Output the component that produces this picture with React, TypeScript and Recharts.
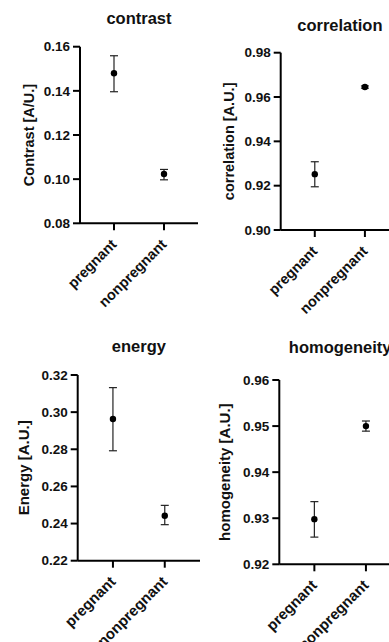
import React from 'react';
import { ScatterChart, Scatter, XAxis, YAxis, ErrorBar } from 'recharts';

const categories = ['pregnant', 'nonpregnant'];

const contrastMean = [0.148, 0.1023];
const contrastLow = [0.1396, 0.0997];
const contrastHigh = [0.1559, 0.1044];
const contrastTicks = [0.08, 0.1, 0.12, 0.14, 0.16];

const correlationMean = [0.9252, 0.9645];
const correlationLow = [0.9195, 0.964];
const correlationHigh = [0.9308, 0.965];
const correlationTicks = [0.9, 0.92, 0.94, 0.96, 0.98];

const energyMean = [0.2963, 0.2442];
const energyLow = [0.2792, 0.2394];
const energyHigh = [0.3132, 0.2498];
const energyTicks = [0.22, 0.24, 0.26, 0.28, 0.3, 0.32];

const homogeneityMean = [0.9298, 0.95];
const homogeneityLow = [0.9259, 0.9489];
const homogeneityHigh = [0.9336, 0.9511];
const homogeneityTicks = [0.92, 0.93, 0.94, 0.95, 0.96];

const FONT = 'Arial, "Liberation Sans", Helvetica, sans-serif';

function build(mean: number[], low: number[], high: number[]) {
  return categories.map((c, i) => ({
    x: i + 1,
    y: mean[i],
    err: [mean[i] - low[i], high[i] - mean[i]],
  }));
}

const XTick = (props: any) => {
  const { x, y, payload, fs } = props;
  return (
    <g transform={`translate(${x},${y})`}>
      <text
        x={0}
        y={0}
        transform="translate(3.5,13) rotate(-45)"
        textAnchor="end"
        fontFamily={FONT}
        fontWeight="bold"
        fontSize={fs}
        fill="#111"
      >
        {categories[payload.value - 1]}
      </text>
    </g>
  );
};

const YLabel = (props: any) => {
  const { viewBox, text, bx, fs } = props;
  const cy = viewBox.y + viewBox.height / 2;
  return (
    <text
      x={bx}
      y={cy}
      transform={`rotate(-90, ${bx}, ${cy})`}
      textAnchor="middle"
      fontFamily={FONT}
      fontWeight="bold"
      fontSize={fs}
      fill="#111"
    >
      {text}
    </text>
  );
};

const Dot = (props: any) => <circle cx={props.cx} cy={props.cy} r={3.2} fill="#000" />;

type PanelProps = {
  left: number;
  top: number;
  width: number;
  height: number;
  plotLeft: number;
  plotRight: number;
  plotTop: number;
  plotBottom: number;
  data: any[];
  ticks: number[];
  title: string;
  titleBaseline: number;
  yLabel: string;
  yLabelBaseline: number;
  labelFs: number;
};

function Panel(p: PanelProps) {
  const xAxisH = 90;
  const margin = {
    top: p.plotTop,
    left: 0,
    right: p.width - p.plotRight,
    bottom: p.height - p.plotBottom - xAxisH,
  };
  const center = (p.plotLeft + p.plotRight) / 2;
  return (
    <div style={{ position: 'absolute', left: p.left, top: p.top, width: p.width, height: p.height }}>
      <div
        style={{
          position: 'absolute',
          left: center - 100,
          width: 200,
          top: p.titleBaseline - 15.7,
          lineHeight: '20px',
          fontSize: 16.5,
          fontWeight: 'bold',
          fontFamily: FONT,
          textAlign: 'center',
          color: '#111',
        }}
      >
        {p.title}
      </div>
      <ScatterChart width={p.width} height={p.height} margin={margin}>
        <XAxis
          type="number"
          dataKey="x"
          domain={[0.32, 2.68]}
          ticks={[1, 2]}
          height={xAxisH}
          interval={0}
          tickSize={7}
          tickMargin={2}
          axisLine={{ stroke: '#000', strokeWidth: 2 }}
          tickLine={{ stroke: '#000', strokeWidth: 2 }}
          tick={<XTick fs={p.labelFs} />}
          allowDataOverflow
        />
        <YAxis
          type="number"
          dataKey="y"
          domain={[p.ticks[0], p.ticks[p.ticks.length - 1]]}
          ticks={p.ticks}
          interval={0}
          width={p.plotLeft}
          tickSize={7}
          tickMargin={3}
          axisLine={{ stroke: '#000', strokeWidth: 2 }}
          tickLine={{ stroke: '#000', strokeWidth: 2 }}
          tick={{ fontFamily: FONT, fontWeight: 'bold', fontSize: 13.5, fill: '#111' }}
          tickFormatter={(v: number) => v.toFixed(2)}
          allowDataOverflow
          label={<YLabel text={p.yLabel} bx={p.yLabelBaseline} fs={p.labelFs} />}
        />
        <Scatter data={p.data} isAnimationActive={false} shape={<Dot />}>
          <ErrorBar dataKey="err" direction="y" width={4} stroke="#222" strokeWidth={1.2} isAnimationActive={false} />
        </Scatter>
      </ScatterChart>
    </div>
  );
}

export default function App() {
  return (
    <div style={{ position: 'absolute', left: 0, top: 0, width: 389, height: 642, overflow: 'hidden', background: '#fff' }}>
      <Panel
        left={0}
        top={0}
        width={200}
        height={320}
        plotLeft={80}
        plotRight={198}
        plotTop={46.7}
        plotBottom={223.3}
        data={build(contrastMean, contrastLow, contrastHigh)}
        ticks={contrastTicks}
        title="contrast"
        titleBaseline={23.3}
        yLabel="Contrast [A/U.]"
        yLabelBaseline={34}
        labelFs={14.5}
      />
      <Panel
        left={200}
        top={0}
        width={200}
        height={320}
        plotLeft={80.7}
        plotRight={199}
        plotTop={52.7}
        plotBottom={230}
        data={build(correlationMean, correlationLow, correlationHigh)}
        ticks={correlationTicks}
        title="correlation"
        titleBaseline={30.5}
        yLabel="correlation [A.U.]"
        yLabelBaseline={34}
        labelFs={14.5}
      />
      <Panel
        left={0}
        top={320}
        width={200}
        height={322}
        plotLeft={77.7}
        plotRight={200}
        plotTop={55}
        plotBottom={240.7}
        data={build(energyMean, energyLow, energyHigh)}
        ticks={energyTicks}
        title="energy"
        titleBaseline={31.7}
        yLabel="Energy [A.U.]"
        yLabelBaseline={29}
        labelFs={15}
      />
      <Panel
        left={200}
        top={320}
        width={202}
        height={322}
        plotLeft={79.3}
        plotRight={201}
        plotTop={60}
        plotBottom={244.3}
        data={build(homogeneityMean, homogeneityLow, homogeneityHigh)}
        ticks={homogeneityTicks}
        title="homogeneity"
        titleBaseline={32.5}
        yLabel="homogeneity [A.U.]"
        yLabelBaseline={30}
        labelFs={15}
      />
    </div>
  );
}
